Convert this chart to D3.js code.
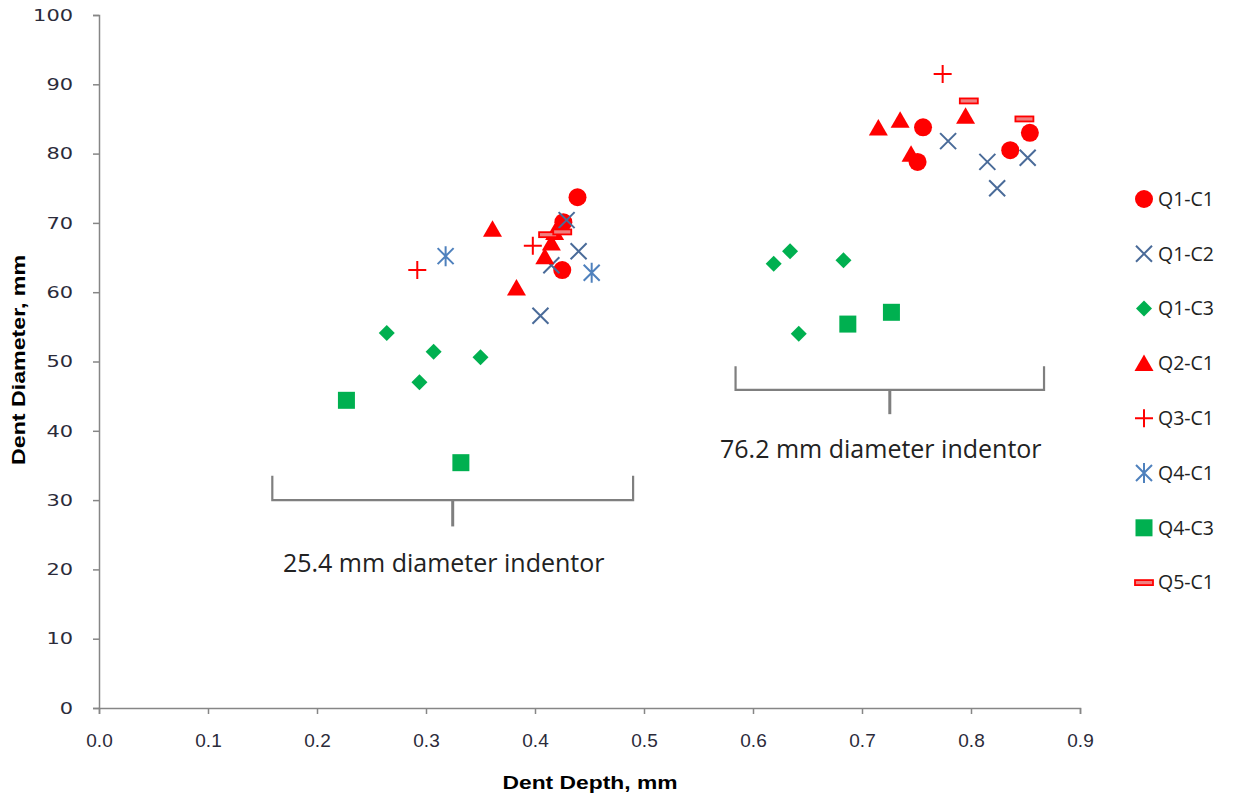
<!DOCTYPE html>
<html><head><meta charset="utf-8">
<script src="https://cdn.jsdelivr.net/npm/d3@7"></script>
<style>body{margin:0;background:#fff}svg{display:block}</style>
</head><body>
<script>
const seriesNames = ["Q1-C1","Q1-C2","Q1-C3","Q2-C1","Q3-C1","Q4-C1","Q4-C3","Q5-C1"];
const q1c1 = [[0.439,73.7],[0.426,70.1],[0.425,63.2],[0.756,83.8],[0.751,78.8],[0.854,83.0],[0.836,80.5]];
const q1c2 = [[0.429,70.4],[0.440,65.9],[0.415,63.9],[0.405,56.6],[0.779,81.8],[0.815,78.8],[0.852,79.4],[0.824,75.0]];
const q1c3 = [[0.264,54.1],[0.307,51.4],[0.294,47.0],[0.350,50.6],[0.619,64.1],[0.634,65.9],[0.683,64.6],[0.642,54.0]];
const q2c1 = [[0.361,69.1],[0.383,60.6],[0.409,65.1],[0.415,67.1],[0.418,68.6],[0.715,83.7],[0.735,84.8],[0.795,85.4],[0.745,79.9]];
const q3c1 = [[0.292,63.2],[0.398,66.7],[0.774,91.5]];
const q4c1 = [[0.318,65.2],[0.452,62.8]];
const q4c3 = [[0.227,44.4],[0.332,35.4],[0.687,55.4],[0.727,57.1]];
const q5c1 = [[0.412,68.3],[0.425,68.7],[0.798,87.6],[0.849,85.0]];
const xTicks = [0,0.1,0.2,0.3,0.4,0.5,0.6,0.7,0.8,0.9];
const yTicks = [0,10,20,30,40,50,60,70,80,90,100];
// annotation brackets in data units
const brackets = [
  {x0:0.159, x1:0.490, yTop:33.5, yBar:30.0, yStem:26.2, label:"25.4 mm diameter indentor", ly:19.6},
  {x0:0.584, x1:0.867, yTop:49.3, yBar:45.9, yStem:42.4, label:"76.2 mm diameter indentor", ly:36.1}
];

const W=1234,H=797;
const svg=d3.select("body").append("svg").attr("width",W).attr("height",H);
const x=d3.scaleLinear().domain([0,0.9]).range([99,1080]);
const y=d3.scaleLinear().domain([0,100]).range([708,15]);
const axisColor="#868686", textColor="#2b2b3a";

const gx=svg.append("g").attr("transform","translate(0,708)")
  .call(d3.axisBottom(x).tickValues(xTicks).tickFormat(d3.format(".1f")).tickSizeOuter(0).tickSize(6).tickPadding(20));
const gy=svg.append("g").attr("transform","translate(99,0)")
  .call(d3.axisLeft(y).tickValues(yTicks).tickSizeOuter(0).tickSize(6).tickPadding(20));
[gx,gy].forEach(g=>{
  g.select(".domain").attr("stroke",axisColor).attr("stroke-width",1.5);
  g.selectAll(".tick line").attr("stroke",axisColor).attr("stroke-width",1.5);
});
gx.attr("font-size",19).attr("font-family","Liberation Sans Narrow, Liberation Sans, sans-serif");
gx.selectAll(".tick text").style("font-family","'Liberation Sans Narrow', 'Liberation Sans', sans-serif").style("font-size","19px").attr("fill",textColor);
gy.selectAll(".tick text").attr("font-family","DejaVu Sans, sans-serif").attr("font-size",15).attr("fill",textColor).attr("dy","0.35em")
  .attr("textLength",d=>String(d).length*13.3).attr("lengthAdjust","spacingAndGlyphs");
svg.append("text").attr("x",590).attr("y",789).attr("text-anchor","middle")
  .attr("font-family","Liberation Sans, sans-serif").attr("font-weight","bold").attr("font-size",18).attr("fill","#000")
  .attr("textLength",175).attr("lengthAdjust","spacingAndGlyphs").text("Dent Depth, mm");
svg.append("text").attr("transform","translate(25,360) rotate(-90)").attr("text-anchor","middle")
  .attr("font-family","Liberation Sans, sans-serif").attr("font-weight","bold").attr("font-size",18).attr("fill","#000")
  .attr("textLength",210).attr("lengthAdjust","spacingAndGlyphs").text("Dent Diameter, mm");

// brackets
brackets.forEach(b=>{
  const g=svg.append("g").attr("stroke","#7f7f7f").attr("stroke-width",2.2).attr("fill","none");
  g.append("path").attr("d",`M${x(b.x0)},${y(b.yTop)}V${y(b.yBar)}H${x(b.x1)}V${y(b.yTop)}`);
  g.append("path").attr("d",`M${x((b.x0+b.x1)/2)},${y(b.yBar)}V${y(b.yStem)}`).attr("stroke-width",3);
  svg.append("text").attr("x",x((b.x0+b.x1)/2)-9).attr("y",y(b.ly)).attr("text-anchor","middle")
    .attr("font-family","Open Sans, sans-serif").attr("font-size",25).attr("fill","#222").text(b.label);
});

const red="#FF0000", green="#00B050", xcol="#4A6B99", astcol="#4F81BD";
function drawMarker(g,type){
  switch(type){
    case "circle": g.append("circle").attr("r",9).attr("fill",red); break;
    case "x": g.append("path").attr("d","M-8,-8L8,8M-8,8L8,-8").attr("stroke",xcol).attr("stroke-width",2).attr("fill","none"); break;
    case "diamond": g.append("path").attr("d","M0,-8L8,0L0,8L-8,0Z").attr("fill",green); break;
    case "triangle": g.append("path").attr("d","M0,-9L9.5,7.5L-9.5,7.5Z").attr("fill",red); break;
    case "plus": g.append("path").attr("d","M-9,0H9M0,-9V9").attr("stroke",red).attr("stroke-width",2).attr("fill","none"); break;
    case "asterisk": g.append("path").attr("d","M-8,-8L8,8M-8,8L8,-8M0,-10V10").attr("stroke",astcol).attr("stroke-width",2).attr("fill","none"); break;
    case "square": g.append("rect").attr("x",-8.5).attr("y",-8.5).attr("width",17).attr("height",17).attr("fill",green); break;
    case "dash": g.append("rect").attr("x",-9).attr("y",-2.5).attr("width",18).attr("height",5).attr("fill","#F08080").attr("stroke",red).attr("stroke-width",1.8); break;
  }
}
const series=[
  {name:seriesNames[0],data:q1c1,type:"circle"},
  {name:seriesNames[1],data:q1c2,type:"x"},
  {name:seriesNames[2],data:q1c3,type:"diamond"},
  {name:seriesNames[3],data:q2c1,type:"triangle"},
  {name:seriesNames[4],data:q3c1,type:"plus"},
  {name:seriesNames[5],data:q4c1,type:"asterisk"},
  {name:seriesNames[6],data:q4c3,type:"square"},
  {name:seriesNames[7],data:q5c1,type:"dash"}
];
series.forEach(s=>{
  const g=svg.append("g");
  s.data.forEach(d=>{
    const m=g.append("g").attr("transform",`translate(${x(d[0])},${y(d[1])})`);
    drawMarker(m,s.type);
  });
});

// legend
const leg=svg.append("g").attr("transform","translate(1144,199)");
series.forEach((s,i)=>{
  const r=leg.append("g").attr("transform",`translate(0,${i*54.8})`);
  drawMarker(r.append("g"),s.type);
  r.append("text").attr("x",14).attr("y",0).attr("dy","0.35em")
    .attr("font-family","Open Sans, sans-serif").attr("font-size",19.5).attr("fill","#222").text(s.name);
});
</script>
</body></html>
